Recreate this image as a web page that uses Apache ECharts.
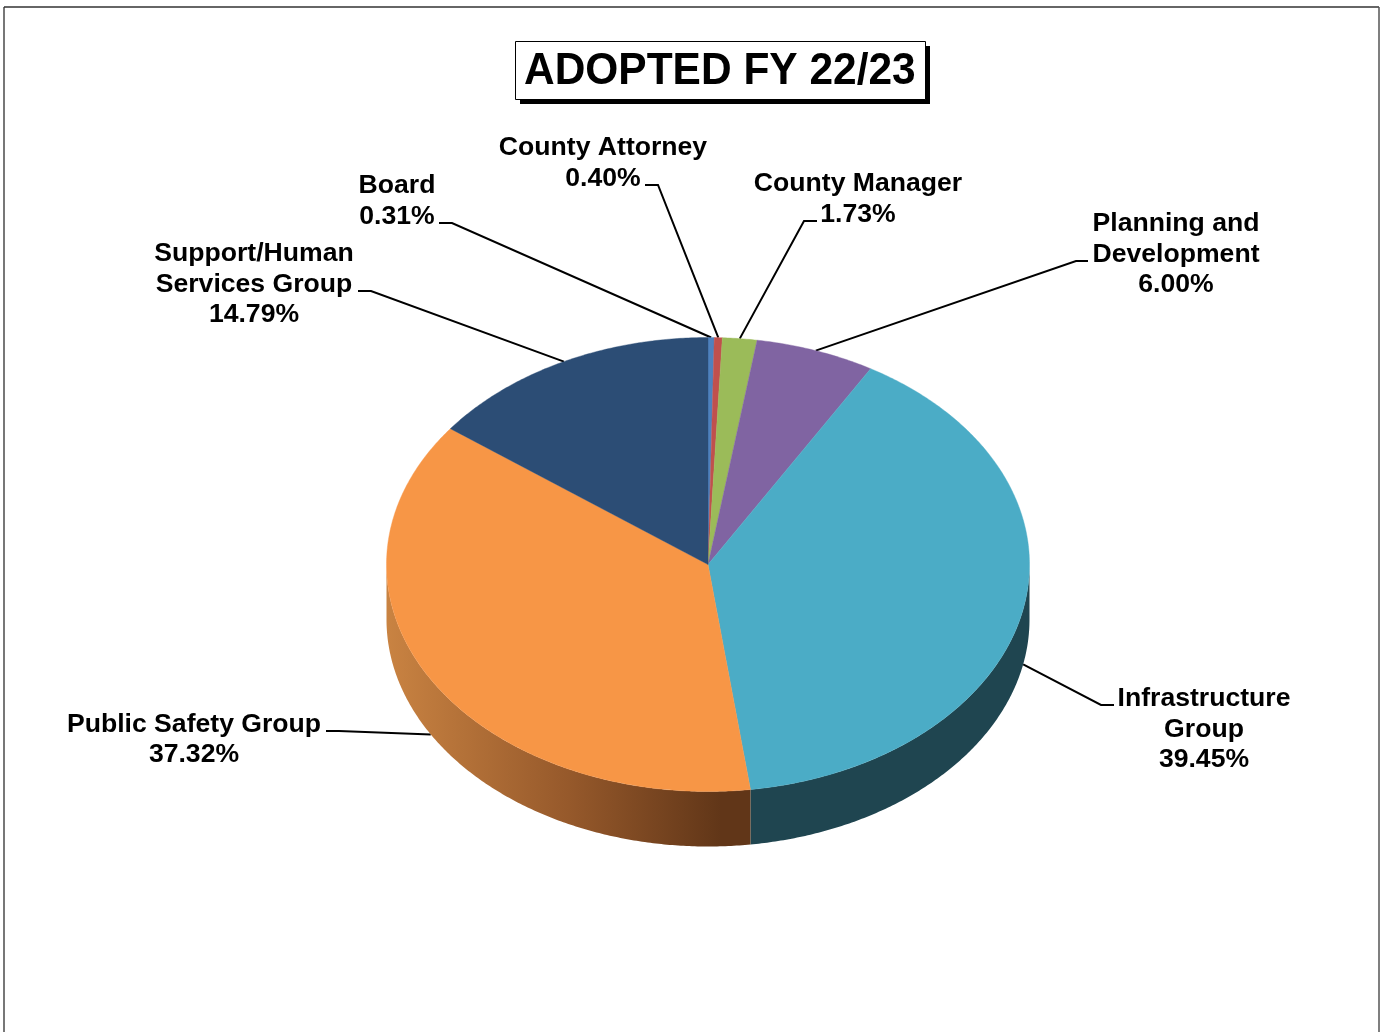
<!DOCTYPE html>
<html><head><meta charset="utf-8">
<style>html,body{margin:0;padding:0;background:#fff;overflow:hidden}#c{width:1381px;height:1032px}</style>
<script src="https://cdn.jsdelivr.net/npm/echarts@6/dist/echarts.min.js"></script>
</head><body><div id="c"></div>
<script>
const categories = ['Board','County Attorney','County Manager','Planning and\nDevelopment','Infrastructure\nGroup','Public Safety Group','Support/Human\nServices Group'];
const values = [0.31,0.40,1.73,6.00,39.45,37.32,14.79];
const titleText = 'ADOPTED FY 22/23';
const colors = ['#4f81bd','#c0504d','#9bbb59','#8064a2','#4bacc6','#f79646','#2c4d75'];

// layout of the tilted pie and of the labels (not data)
const pie = {cx:708, cy:564.5, rx:321.5, ry:227, depth:55};
const labelLayout = [
  {x:397, y:201, lx:439, ly:223, ex:452},
  {x:603, y:163, lx:645, ly:185, ex:658},
  {x:858, y:199, lx:817, ly:221, ex:804},
  {x:1176, y:254.5, lx:1088, ly:261, ex:1076},
  {x:1204, y:729.5, lx:1114, ly:705, ex:1101},
  {x:194, y:739.5, lx:326, ly:731, ex:339},
  {x:254, y:284.5, lx:358, ly:291, ex:371}
];
const total = values.reduce((a,b)=>a+b,0);
const starts = []; values.reduce((acc,v,i)=>{starts[i]=acc;return acc+v;},0);
const D2R = Math.PI/180;
const pt = (deg,dy=0)=>[pie.cx+pie.rx*Math.sin(deg*D2R), pie.cy-pie.ry*Math.cos(deg*D2R)+dy];
function arc(a0,a1,dy=0){
  const n=Math.max(2,Math.ceil((a1-a0)/0.5)), out=[];
  for(let k=0;k<=n;k++) out.push(pt(a0+(a1-a0)*k/n,dy));
  return out;
}
const sideFill = i => {
  if(i===4) return '#1f4550';
  if(i===5) return {type:'linear',x:0,y:0,x2:1,y2:0,colorStops:[
    {offset:0,color:'#c98342'},{offset:0.5,color:'#96592b'},{offset:0.92,color:'#613618'},{offset:1,color:'#613618'}]};
  return colors[i];
};
function renderItem(params, api){
  const i = params.dataIndex, v = api.value(0);
  const a0 = starts[i]/total*360, a1 = a0+v/total*360, mid=(a0+a1)/2;
  const children=[];
  const s0=Math.max(a0,90), s1=Math.min(a1,270);
  if(s1>s0){
    const top=arc(s0,s1), bot=arc(s0,s1,pie.depth).reverse();
    children.push({type:'polygon',z2:1,shape:{points:top.concat(bot)},style:{fill:sideFill(i)}});
  }
  children.push({type:'polygon',z2:2,shape:{points:[[pie.cx,pie.cy]].concat(arc(a0,a1))},
    style:{fill:colors[i],stroke:colors[i],lineWidth:0.4}});
  const L=labelLayout[i];
  const onSide = mid>90 && mid<270;
  const end=pt(mid,onSide?pie.depth:0);
  children.push({type:'polyline',z2:0,shape:{points:[[L.lx,L.ly],[L.ex,L.ly],end]},
    style:{fill:null,stroke:'#000',lineWidth:2}});
  children.push({type:'text',z2:3,style:{x:L.x,y:L.y,
    text:categories[i]+'\n'+v.toFixed(2)+'%',
    align:'center',verticalAlign:'middle',
    font:'bold 26.6px "Liberation Sans", Arial, sans-serif',lineHeight:30.5,fill:'#000'}});
  return {type:'group',children};
}
const chart = echarts.init(document.getElementById('c'),null,{renderer:'canvas'});
const frame = (x1,y1,x2,y2,c,w)=>({type:'line',silent:true,z:-1,shape:{x1,y1,x2,y2},style:{stroke:c,lineWidth:w}});
chart.setOption({
  animation:false,
  backgroundColor:'#fff',
  graphic:[
    frame(4,7,4,1032,'#777',2),
    frame(4,7,1379,7,'#333',1.5),
    frame(1379,7,1379,1032,'#555',1.5),
    {type:'rect',silent:true,shape:{x:520,y:46,width:410,height:58},style:{fill:'#000'}},
    {type:'rect',silent:true,shape:{x:515.5,y:41.5,width:410,height:58},style:{fill:'#fff',stroke:'#000',lineWidth:1}},
    {type:'text',silent:true,x:524,y:72,scaleX:0.965,z:5,
     style:{text:titleText,align:'left',verticalAlign:'middle',fill:'#000',
       font:'bold 44px "Liberation Sans", Arial, sans-serif'}}
  ],
  series:[{type:'custom',coordinateSystem:'none',silent:true,renderItem,
    data:categories.map((n,i)=>({name:n.replace('\n',' '),value:values[i]}))}]
});
</script></body></html>
